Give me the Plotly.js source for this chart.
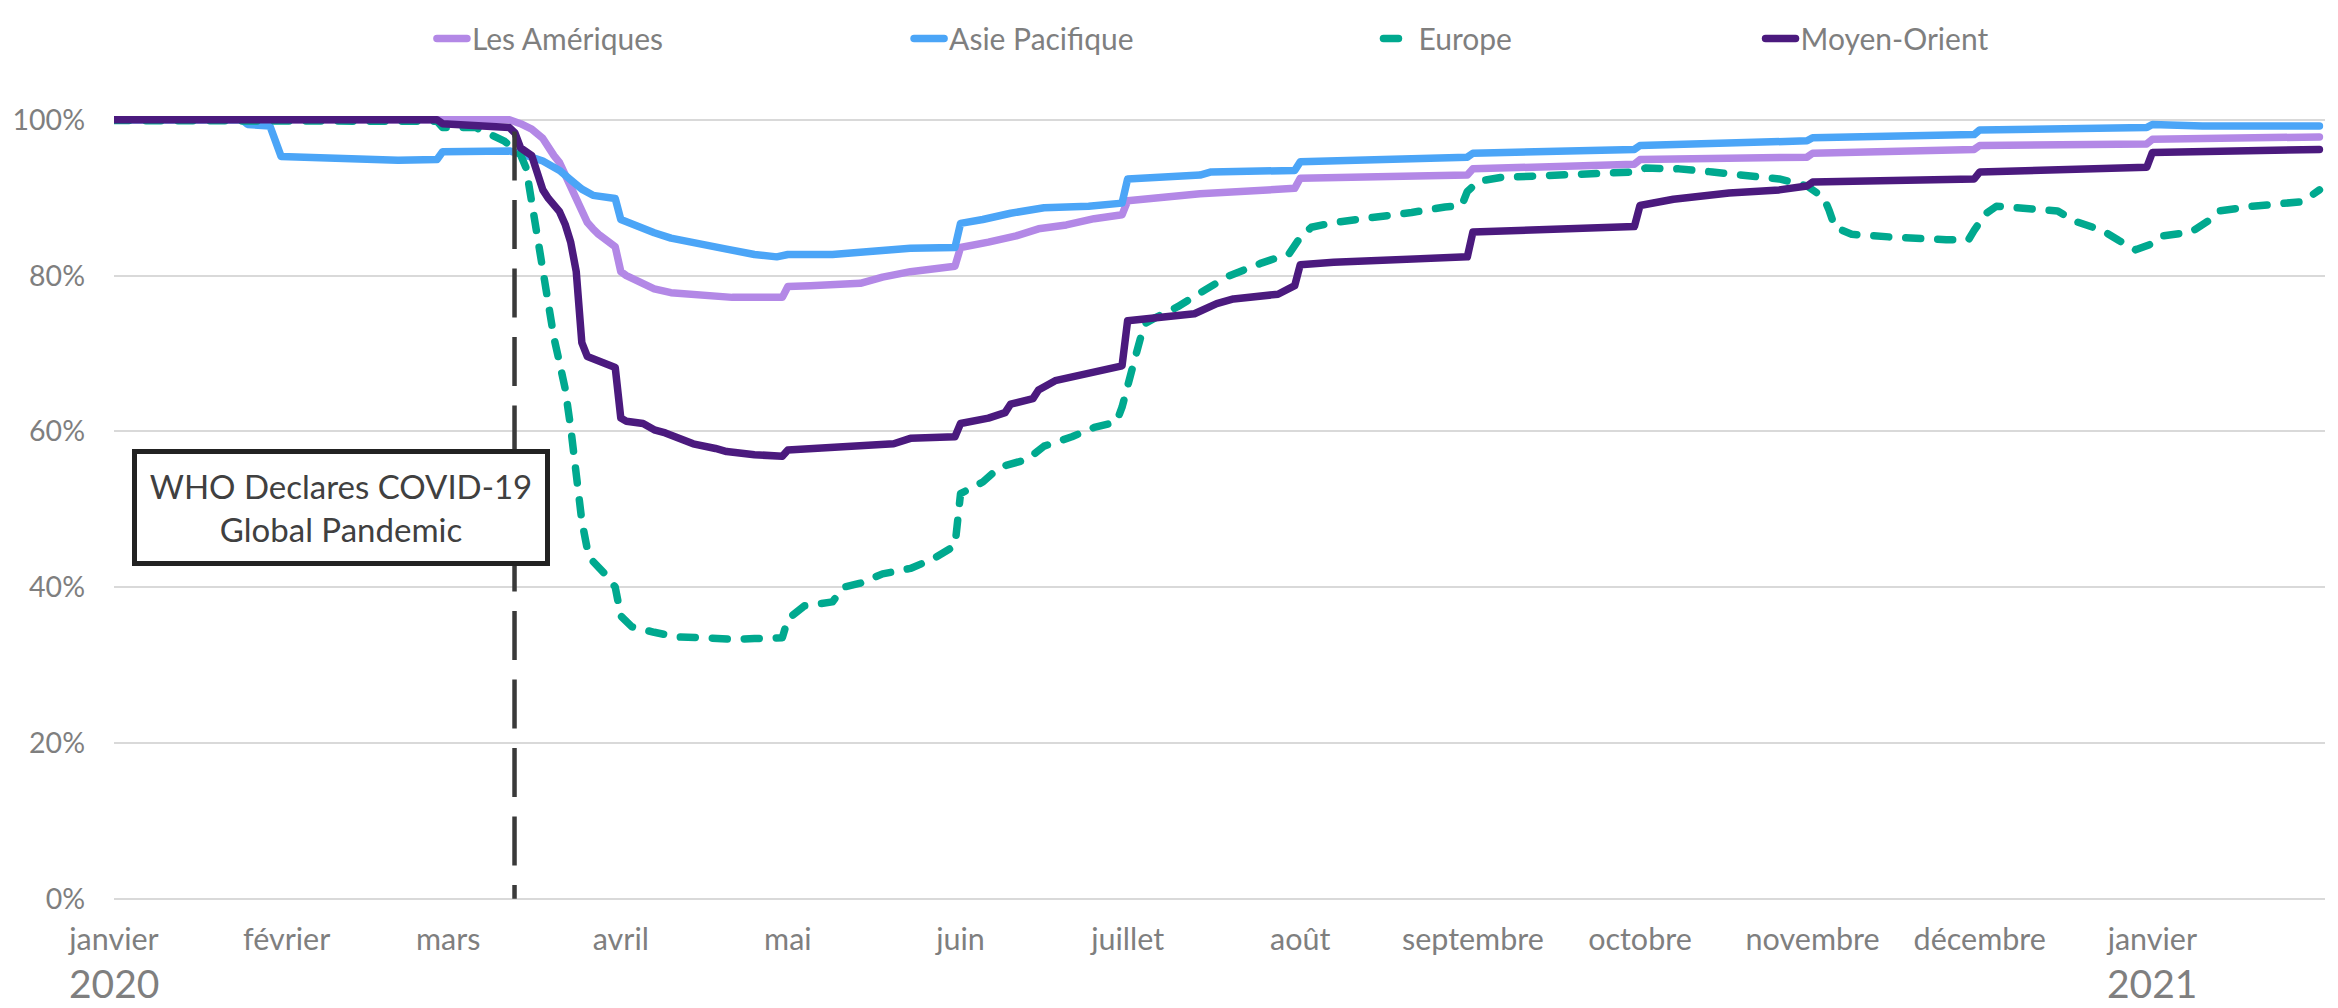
<!DOCTYPE html>
<html>
<head>
<meta charset="utf-8">
<script src="https://cdn.plot.ly/plotly-3.0.1.min.js"></script>
<style>
  html, body { margin: 0; padding: 0; background: #ffffff; }
  #chart { width: 2338px; height: 1008px; }
  .js-line { stroke-linecap: round; stroke-linejoin: round; }
</style>
</head>
<body>
<div id="chart"></div>
<script>
// ---------- DATA ----------
const seriesNames = ["Les Amériques", "Asie Pacifique", "Europe", "Moyen-Orient"];

const amerDates = ["2020-01-01","2020-03-12","2020-03-14","2020-03-16","2020-03-18","2020-03-19","2020-03-20","2020-03-21","2020-03-22","2020-03-23","2020-03-24","2020-03-25","2020-03-26","2020-03-27","2020-03-28","2020-03-31","2020-04-01","2020-04-02","2020-04-05","2020-04-07","2020-04-10","2020-04-16","2020-04-21","2020-04-30","2020-05-01","2020-05-05","2020-05-14","2020-05-18","2020-05-23","2020-05-31","2020-06-01","2020-06-06","2020-06-11","2020-06-15","2020-06-20","2020-06-25","2020-06-30","2020-07-01","2020-07-14","2020-07-31","2020-08-01","2020-08-31","2020-09-01","2020-09-30","2020-10-01","2020-10-31","2020-11-01","2020-11-30","2020-12-01","2020-12-31","2021-01-01","2021-01-31"];
const amerValues = [100,100,99.5,98.8,97.6,96.4,95.4,94.5,93.0,91.3,89.5,88.2,86.8,86.0,85.3,83.7,80.5,80.0,79.0,78.3,77.8,77.4,77.2,77.2,78.6,78.7,79.0,79.8,80.5,81.2,83.6,84.3,85.1,86.0,86.5,87.3,87.8,89.6,90.5,91.2,92.5,92.9,93.7,94.3,94.9,95.2,95.7,96.2,96.7,96.9,97.5,97.8];

const asiaDates = ["2020-01-01","2020-01-24","2020-01-25","2020-01-29","2020-01-31","2020-02-07","2020-02-14","2020-02-21","2020-02-28","2020-02-29","2020-03-12","2020-03-14","2020-03-16","2020-03-18","2020-03-21","2020-03-23","2020-03-25","2020-03-27","2020-03-31","2020-04-01","2020-04-04","2020-04-07","2020-04-10","2020-04-16","2020-04-20","2020-04-25","2020-04-29","2020-05-01","2020-05-09","2020-05-14","2020-05-23","2020-05-31","2020-06-01","2020-06-05","2020-06-10","2020-06-16","2020-06-24","2020-06-30","2020-07-01","2020-07-14","2020-07-16","2020-07-31","2020-08-01","2020-08-31","2020-09-01","2020-09-30","2020-10-01","2020-10-31","2020-11-01","2020-11-30","2020-12-01","2020-12-31","2021-01-01","2021-01-10","2021-01-31"];
const asiaValues = [100,100,99.4,99.2,95.3,95.1,95.0,94.8,94.9,95.9,96.0,95.7,95.2,94.7,93.5,92.3,91.1,90.3,89.9,87.2,86.3,85.5,84.8,84.1,83.4,82.7,82.4,82.7,82.7,83.0,83.5,83.6,86.7,87.2,88.0,88.7,88.9,89.3,92.4,92.9,93.3,93.5,94.6,95.2,95.7,96.2,96.7,97.3,97.7,98.1,98.7,99.0,99.4,99.2,99.2];

const euroDates = ["2020-01-01","2020-02-28","2020-02-29","2020-03-06","2020-03-08","2020-03-11","2020-03-13","2020-03-14","2020-03-15","2020-03-16","2020-03-17","2020-03-18","2020-03-19","2020-03-20","2020-03-21","2020-03-22","2020-03-23","2020-03-24","2020-03-25","2020-03-26","2020-03-27","2020-03-29","2020-03-31","2020-04-01","2020-04-03","2020-04-07","2020-04-11","2020-04-16","2020-04-21","2020-04-25","2020-04-30","2020-05-01","2020-05-04","2020-05-09","2020-05-11","2020-05-14","2020-05-18","2020-05-23","2020-05-27","2020-05-31","2020-06-01","2020-06-05","2020-06-08","2020-06-13","2020-06-16","2020-06-21","2020-06-25","2020-06-29","2020-06-30","2020-07-02","2020-07-04","2020-07-06","2020-07-10","2020-07-15","2020-07-19","2020-07-25","2020-07-30","2020-08-01","2020-08-03","2020-08-07","2020-08-14","2020-08-21","2020-08-27","2020-08-30","2020-08-31","2020-09-02","2020-09-06","2020-09-15","2020-09-24","2020-09-30","2020-10-02","2020-10-08","2020-10-14","2020-10-20","2020-10-26","2020-10-31","2020-11-03","2020-11-04","2020-11-05","2020-11-08","2020-11-13","2020-11-16","2020-11-25","2020-11-29","2020-11-30","2020-12-02","2020-12-04","2020-12-10","2020-12-15","2020-12-18","2020-12-23","2020-12-26","2020-12-29","2021-01-01","2021-01-03","2021-01-08","2021-01-11","2021-01-13","2021-01-19","2021-01-28","2021-01-31"];
const euroValues = [99.9,99.8,99.0,99.0,98.3,97.3,96.2,95.5,93.8,89.5,85.0,80.5,75.8,72.0,68.8,65.5,60.5,54.5,48.5,44.8,43.3,41.8,40.0,36.3,34.9,34.2,33.6,33.5,33.3,33.4,33.5,35.9,37.6,38.1,40.0,40.5,41.7,42.4,43.6,45.3,52.0,53.5,55.4,56.4,58.1,59.3,60.5,61.2,63.1,68.5,73.8,74.6,76.0,78.2,79.9,81.6,82.8,84.9,86.2,86.8,87.4,88.1,88.8,89.0,90.8,92.1,92.6,92.9,93.1,93.3,93.8,93.7,93.3,92.8,92.4,91.5,90.0,88.3,86.2,85.3,85.0,84.9,84.6,84.6,85.8,87.9,88.9,88.7,88.3,87.0,85.8,84.5,83.3,84.1,85.1,85.6,87.0,88.3,88.9,89.5,91.0];

const meDates = ["2020-01-01","2020-02-28","2020-02-29","2020-03-08","2020-03-11","2020-03-12","2020-03-13","2020-03-14","2020-03-16","2020-03-17","2020-03-18","2020-03-19","2020-03-21","2020-03-22","2020-03-23","2020-03-24","2020-03-25","2020-03-26","2020-03-28","2020-03-31","2020-04-01","2020-04-02","2020-04-05","2020-04-07","2020-04-09","2020-04-11","2020-04-14","2020-04-18","2020-04-20","2020-04-25","2020-04-30","2020-05-01","2020-05-09","2020-05-15","2020-05-20","2020-05-23","2020-05-31","2020-06-01","2020-06-06","2020-06-09","2020-06-10","2020-06-14","2020-06-15","2020-06-18","2020-06-23","2020-06-25","2020-06-30","2020-07-01","2020-07-05","2020-07-13","2020-07-17","2020-07-20","2020-07-28","2020-07-31","2020-08-01","2020-08-07","2020-08-31","2020-09-01","2020-09-30","2020-10-01","2020-10-07","2020-10-11","2020-10-17","2020-10-26","2020-10-31","2020-11-01","2020-11-15","2020-11-30","2020-12-01","2020-12-31","2021-01-01","2021-01-31"];
const meValues = [100,100,99.5,99.3,99.1,99.0,98.3,96.4,95.4,93.2,91.0,89.9,88.2,86.6,84.3,80.5,71.4,69.6,69.0,68.2,61.7,61.3,61.0,60.2,59.8,59.3,58.4,57.8,57.4,57.0,56.8,57.6,57.9,58.1,58.4,59.1,59.3,61.0,61.7,62.4,63.5,64.2,65.3,66.5,67.2,67.7,68.4,74.2,74.5,75.1,76.4,77.0,77.6,78.7,81.4,81.7,82.4,85.6,86.3,89.0,89.8,90.2,90.6,91.0,91.5,92.0,92.1,92.4,93.3,93.9,95.8,96.2];

const monthTickDates = ["2020-01-01","2020-02-01","2020-03-01","2020-04-01","2020-05-01","2020-06-01","2020-07-01","2020-08-01","2020-09-01","2020-10-01","2020-11-01","2020-12-01","2021-01-01"];
const monthTickLabels = ["janvier","février","mars","avril","mai","juin","juillet","août","septembre","octobre","novembre","décembre","janvier"];
const yearLabelDates = ["2020-01-01","2021-01-01"];
const yearLabels = ["2020","2021"];
const yTickValues = [0,20,40,60,80,100];
const yTickLabels = ["0%","20%","40%","60%","80%","100%"];
const whoDate = "2020-03-12 22:00";
const whoText = "WHO Declares COVID-19<br>Global Pandemic";

// ---------- STYLE ----------
const FONT = "Lato, 'Open Sans', 'Noto Sans', sans-serif";
const GREY = "#7f7f7f";
const colors = ["#b388e6", "#4ba5f7", "#00a98f", "#4b1a7e"];

const seriesDates = [amerDates, asiaDates, euroDates, meDates];
const seriesValues = [amerValues, asiaValues, euroValues, meValues];
const legendIds = ["legend", "legend2", "legend3", "legend4"];
const legendX = [0.1438, 0.3596, 0.5719, 0.7447];

const traces = seriesNames.map((name, i) => ({
  type: "scatter",
  mode: "lines",
  name: name,
  x: seriesDates[i],
  y: seriesValues[i],
  legend: legendIds[i],
  line: {
    color: colors[i],
    width: 7.5,
    dash: i === 2 ? "15px,17px" : "solid"
  },
  hoverinfo: "skip"
}));

const layout = {
  width: 2338,
  height: 1008,
  margin: { l: 114, r: 13, t: 96, b: 107, pad: 0 },
  paper_bgcolor: "#ffffff",
  plot_bgcolor: "#ffffff",
  font: { family: FONT, color: GREY, size: 28 },
  showlegend: true,
  xaxis: {
    type: "date",
    range: ["2020-01-01", "2021-02-01"],
    tickmode: "array",
    tickvals: monthTickDates,
    ticktext: monthTickLabels,
    showgrid: false,
    zeroline: false,
    showline: false,
    ticks: "",
    ticklabelstandoff: 17,
    tickfont: { family: FONT, size: 30.5, color: GREY },
    fixedrange: true
  },
  yaxis: {
    range: [-0.3, 101],
    tickmode: "array",
    tickvals: yTickValues,
    ticktext: yTickLabels,
    showgrid: true,
    gridcolor: "#d9d9d9",
    gridwidth: 2,
    zeroline: false,
    showline: false,
    ticks: "",
    ticklabelstandoff: 28,
    tickfont: { family: FONT, size: 28.5, color: GREY },
    fixedrange: true
  },
  shapes: [{
    type: "line",
    xref: "x", yref: "y",
    x0: whoDate, x1: whoDate,
    y0: 98.5, y1: 0,
    line: { color: "#3a3a3a", width: 4.5, dash: "49px,19.5px" },
    layer: "above"
  }],
  annotations: [
    {
      xref: "paper", yref: "paper",
      x: 0.008, y: 0.573,
      xanchor: "left", yanchor: "top",
      text: whoText,
      showarrow: false,
      align: "center",
      width: 408, height: 107,
      bgcolor: "#ffffff",
      bordercolor: "#222222",
      borderwidth: 5,
      borderpad: 0,
      font: { family: FONT, size: 33, color: "#404040" }
    }
  ].concat(yearLabels.map((t, i) => ({
    xref: "x", yref: "paper",
    x: yearLabelDates[i], y: -0.1035,
    xanchor: "center", yanchor: "middle",
    text: t, showarrow: false,
    font: { family: FONT, size: 39, color: GREY }
  })))
};

legendIds.forEach((id, i) => {
  layout[id] = {
    orientation: "h",
    x: legendX[i], xanchor: "left",
    y: 1.0933, yanchor: "middle",
    bgcolor: "rgba(0,0,0,0)",
    borderwidth: 0,
    font: { family: FONT, size: 30, color: GREY }
  };
});

Plotly.newPlot("chart", traces, layout, { displayModeBar: false, staticPlot: true });
</script>
</body>
</html>
